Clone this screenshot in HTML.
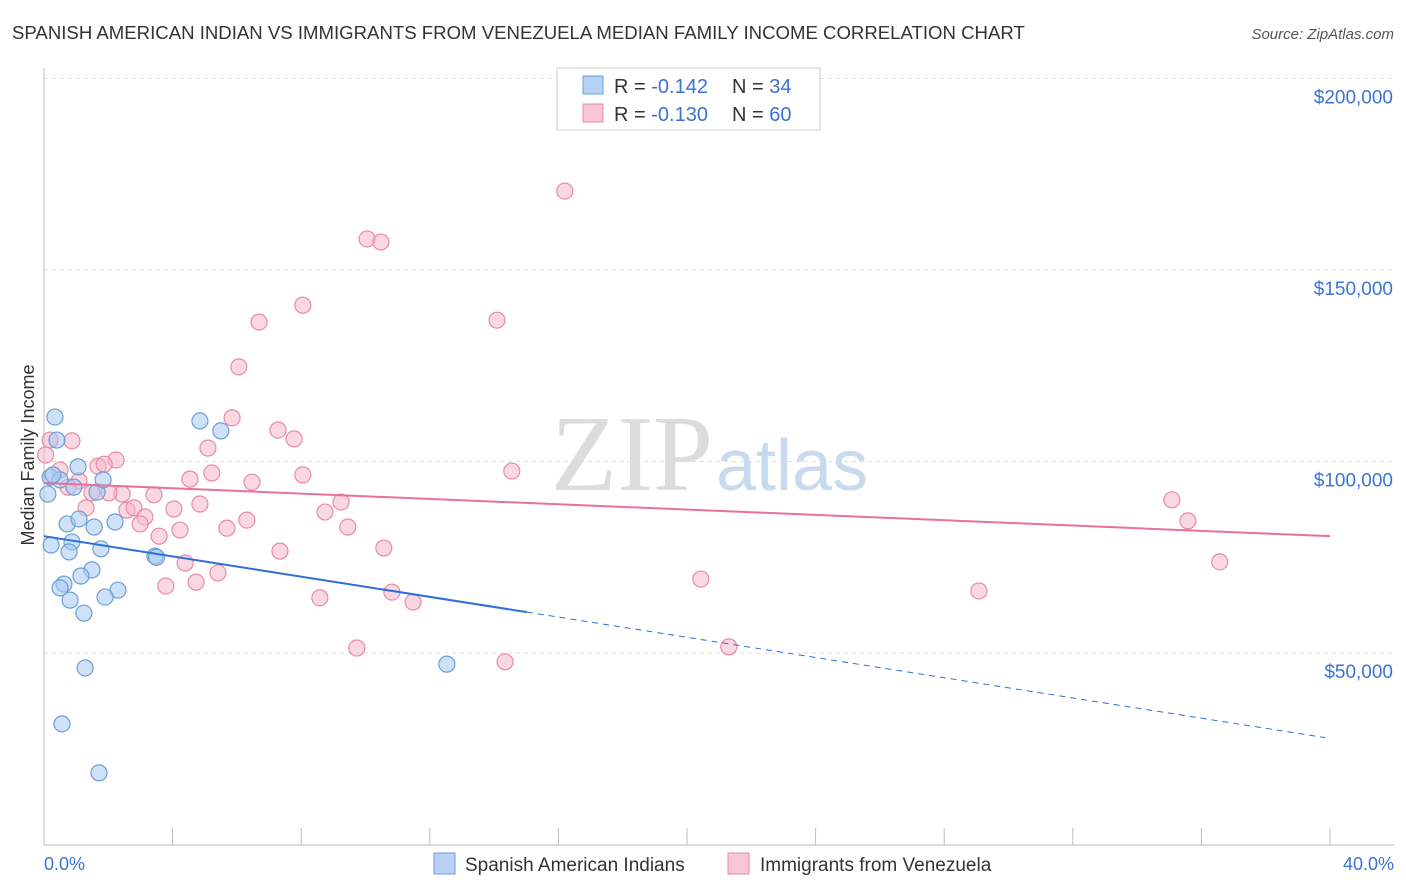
<!DOCTYPE html>
<html><head><meta charset="utf-8"><style>
body{margin:0;background:#fff;font-family:"Liberation Sans",sans-serif;}
#wrap{position:relative;width:1406px;height:892px;overflow:hidden;}
</style></head><body>
<div id="wrap">
<svg id="chart" width="1406" height="892" xmlns="http://www.w3.org/2000/svg">
<text x="12" y="39" font-size="18.6" fill="#333">SPANISH AMERICAN INDIAN VS IMMIGRANTS FROM VENEZUELA MEDIAN FAMILY INCOME CORRELATION CHART</text>
<text x="1394" y="39" font-size="15" fill="#555" font-style="italic" text-anchor="end">Source: ZipAtlas.com</text>
<text x="713" y="490" font-size="108" fill="#dcdcdc" text-anchor="end" font-family="Liberation Serif">ZIP</text>
<text x="716" y="490" font-size="72" fill="#c9daf0">atlas</text>
<text transform="translate(34,455) rotate(-90)" font-size="18" fill="#333" text-anchor="middle">Median Family Income</text>
<g id="grid"></g><g id="marks"></g>
<rect x="557" y="68" width="263" height="62" fill="#fff" stroke="#ccc"/>
<rect x="583" y="76" width="20" height="18" fill="#b7d2f5" stroke="#6a9fd8"/>
<rect x="583" y="104" width="20" height="18" fill="#f9c6d5" stroke="#e98aa8"/>
<text x="614" y="93" font-size="20" fill="#333">R = <tspan fill="#3b73d4">-0.142</tspan></text>
<text x="732" y="93" font-size="20" fill="#333">N = <tspan fill="#3b73d4">34</tspan></text>
<text x="614" y="121" font-size="20" fill="#333">R = <tspan fill="#3b73d4">-0.130</tspan></text>
<text x="732" y="121" font-size="20" fill="#333">N = <tspan fill="#3b73d4">60</tspan></text>
<rect x="434" y="853" width="21" height="21" fill="#b7d2f5" stroke="#6a9fd8"/>
<text x="465" y="871" font-size="19" fill="#333">Spanish American Indians</text>
<rect x="728" y="853" width="21" height="21" fill="#f9c6d5" stroke="#e98aa8"/>
<text x="760" y="871" font-size="19" fill="#333">Immigrants from Venezuela</text>
<text x="44" y="870" font-size="18" fill="#3b73d4">0.0%</text>
<text x="1394" y="870" font-size="18" fill="#3b73d4" text-anchor="end">40.0%</text>
</svg></div>
<script>
const yTicks=[50000,100000,150000,200000];
const yTickLabels=["$50,000","$100,000","$150,000","$200,000"];
const xTicks=[0,4,8,12,16,20,24,28,32,36,40];
const blueX=[0.34,0.40,0.19,0.50,0.12,1.06,0.93,1.65,1.84,0.72,1.09,1.56,2.21,0.22,0.87,0.78,1.77,3.45,1.49,1.15,0.62,0.50,2.30,1.90,0.81,1.24,4.85,5.50,12.53,1.28,0.56,1.71,0.28,3.5];
const blueY=[111.6,105.6,95.9,95.2,91.5,98.6,93.3,92.0,95.2,83.7,85.0,82.9,84.2,78.2,79.0,76.4,77.2,75.3,71.7,70.1,68.0,67.0,66.4,64.6,63.8,60.4,110.6,108.0,47.1,46.1,31.5,18.7,96.5,75.0];
const pinkX=[16.20,10.05,10.48,8.05,6.69,14.09,6.06,5.85,7.28,7.78,5.10,0.87,0.50,2.24,1.68,1.87,5.22,8.05,14.55,6.47,4.54,1.09,0.75,1.49,2.43,3.42,2.02,9.24,4.85,4.04,1.31,2.58,2.80,3.14,8.74,6.31,2.99,4.23,5.69,9.45,3.58,10.57,7.34,4.39,5.41,3.79,4.73,10.82,8.58,11.48,20.43,9.73,14.34,21.30,29.08,35.08,35.58,36.57,0.19,0.05];
const pinkY=[170.6,158.1,157.3,140.8,136.4,136.9,124.7,111.4,108.2,105.9,103.5,105.4,97.8,100.4,98.8,99.3,97.0,96.5,97.5,94.6,95.4,94.9,93.3,91.8,91.5,91.3,91.8,89.4,88.9,87.6,87.9,87.3,87.9,85.5,86.8,84.7,83.7,82.1,82.6,82.9,80.5,77.4,76.6,73.5,70.9,67.5,68.5,65.9,64.4,63.3,69.3,51.3,47.7,51.6,66.2,90.0,84.5,73.8,105.6,101.7];
const blueTrend=[80.5,27.9];
const blueSolidEnd=15.02;
const pinkTrend=[94.4,80.5];
const NS="http://www.w3.org/2000/svg";
const X=p=>44+p/40*1286;
const Y=k=>653-(k*1000-50000)/50000*191.5;
const grid=document.getElementById('grid'),marks=document.getElementById('marks');
function mk(tag,at,parent){const e=document.createElementNS(NS,tag);for(const k in at)e.setAttribute(k,at[k]);parent.appendChild(e);return e;}
yTicks.forEach((v,i)=>{
 const l=mk('line',{x1:44,x2:1394,y1:Y(v/1000),y2:Y(v/1000),stroke:'#ddd','stroke-dasharray':'4,4'},grid);
 
 
 const t=mk('text',{x:1393,y:Y(v/1000)+25,'font-size':19,fill:'#3b73d4','text-anchor':'end'},grid);
 t.textContent=yTickLabels[i];
 
 
});
const ax=mk('line',{x1:44,x2:1394,y1:845,y2:845,stroke:'#bbb'},grid);


const ay=mk('line',{x1:44,x2:44,y1:68,y2:845,stroke:'#bbb'},grid);


xTicks.forEach(p=>{
 const t=mk('line',{x1:X(p),x2:X(p),y1:828,y2:845,stroke:'#bbb'},grid);
 
 
});
function dots(xs,ys,fill,stroke,name){
 xs.forEach((x,i)=>{
  const c=mk('circle',{cx:X(x),cy:Y(ys[i]),r:8,fill:fill,'fill-opacity':0.55,stroke:stroke,'stroke-width':1.2},marks);
  
  
 });
}
dots(pinkX,pinkY,'#f5b8cb','#e98aa8','point-venezuela');
dots(blueX,blueY,'#a8c8f0','#6a9fd8','point-spanish-american-indian');
const bAt=x=>blueTrend[0]+(blueTrend[1]-blueTrend[0])*x/39.85;
const b1=mk('line',{x1:X(0),y1:Y(bAt(0)),x2:X(blueSolidEnd),y2:Y(bAt(blueSolidEnd)),stroke:'#2f6fd6','stroke-width':2},marks);


const b2=mk('line',{x1:X(blueSolidEnd),y1:Y(bAt(blueSolidEnd)),x2:X(39.85),y2:Y(bAt(39.85)),stroke:'#2f6fd6','stroke-width':1,'stroke-dasharray':'6,5'},marks);


const p1=mk('line',{x1:X(0),y1:Y(pinkTrend[0]),x2:X(40),y2:Y(pinkTrend[1]),stroke:'#e8709a','stroke-width':2},marks);


</script>
</body></html>
